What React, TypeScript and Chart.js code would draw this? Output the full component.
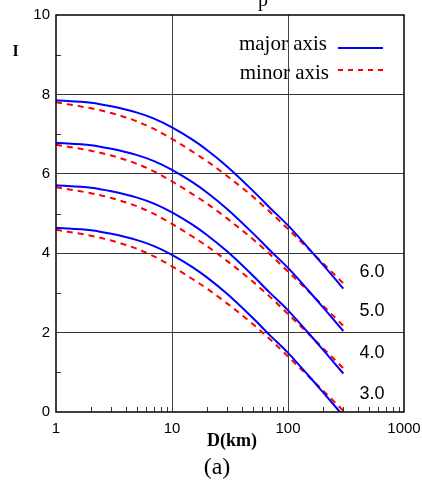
import { useEffect, useRef } from "react";
import { Chart, registerables } from "chart.js";

Chart.register(...registerables);

// ---------- data ----------
const distances = [1, 2, 3, 5, 7, 10, 15, 20, 30, 50, 70, 100, 150, 200, 300];
const magnitudeLabels = ["6.0", "5.0", "4.0", "3.0"];

const major60 = [7.85, 7.79, 7.70, 7.54, 7.39, 7.17, 6.86, 6.60, 6.18, 5.57, 5.14, 4.70, 4.13, 3.71, 3.11];
const minor60 = [7.80, 7.65, 7.53, 7.32, 7.13, 6.88, 6.56, 6.32, 5.94, 5.42, 5.04, 4.61, 4.11, 3.75, 3.24];
const major50 = [6.78, 6.72, 6.63, 6.47, 6.32, 6.10, 5.79, 5.53, 5.11, 4.50, 4.07, 3.63, 3.06, 2.64, 2.04];
const minor50 = [6.73, 6.58, 6.46, 6.25, 6.06, 5.81, 5.49, 5.25, 4.87, 4.35, 3.97, 3.54, 3.04, 2.68, 2.17];
const major40 = [5.71, 5.65, 5.56, 5.40, 5.25, 5.03, 4.72, 4.46, 4.04, 3.43, 3.00, 2.56, 1.99, 1.57, 0.97];
const minor40 = [5.66, 5.51, 5.39, 5.18, 4.99, 4.74, 4.42, 4.18, 3.80, 3.28, 2.90, 2.47, 1.97, 1.61, 1.10];
const major30 = [4.64, 4.58, 4.49, 4.33, 4.18, 3.96, 3.65, 3.39, 2.97, 2.36, 1.93, 1.49, 0.92, 0.50, -0.10];
const minor30 = [4.59, 4.44, 4.32, 4.11, 3.92, 3.67, 3.35, 3.11, 2.73, 2.21, 1.83, 1.40, 0.90, 0.54, 0.03];

const xTicks = [1, 10, 100, 1000];
const xMinorTicks = [2, 3, 4, 5, 6, 7, 8, 9, 20, 30, 40, 50, 60, 70, 80, 90, 200, 300, 400, 500, 600, 700, 800, 900];
const yTicks = [0, 2, 4, 6, 8, 10];
const yMinorTicks = [1, 3, 5, 7, 9];
const legendLabels = ["major axis", "minor axis"];
const xTitle = "D(km)";
const yTitle = "I";
const caption = "(a)";

const SANS = "'Liberation Sans', Arial, sans-serif";
const SERIF = "'Liberation Serif', 'Times New Roman', serif";

const BLUE = "#0000ff";
const RED = "#ff0000";

const toPoints = (vals: number[]) => distances.map((d, i) => ({ x: d, y: vals[i] }));

const extrasPlugin = {
  id: "extras",
  afterDatasetsDraw(chart: any) {
    const { ctx, chartArea } = chart;
    const xs = chart.scales.x;
    const ys = chart.scales.y;
    const { left, right, top, bottom } = chartArea;
    ctx.save();

    // minor ticks (inside)
    ctx.strokeStyle = "#333";
    ctx.lineWidth = 1;
    ctx.beginPath();
    xMinorTicks.forEach((v) => {
      const px = Math.round(xs.getPixelForValue(v)) + 0.5;
      ctx.moveTo(px, bottom);
      ctx.lineTo(px, bottom - 5);
    });
    yMinorTicks.forEach((v) => {
      const py = Math.round(ys.getPixelForValue(v)) + 0.5;
      ctx.moveTo(left, py);
      ctx.lineTo(left + 5, py);
    });
    ctx.stroke();

    // frame
    ctx.strokeStyle = "#000";
    ctx.lineWidth = 1.5;
    ctx.strokeRect(left, top, right - left, bottom - top);

    // legend
    ctx.fillStyle = "#000";
    ctx.font = `21px ${SERIF}`;
    ctx.textAlign = "right";
    ctx.textBaseline = "alphabetic";
    ctx.fillText(legendLabels[0], 327, 50);
    ctx.fillText(legendLabels[1], 329, 79);
    ctx.lineWidth = 2;
    ctx.strokeStyle = BLUE;
    ctx.beginPath();
    ctx.moveTo(338, 48);
    ctx.lineTo(383, 48);
    ctx.stroke();
    ctx.strokeStyle = RED;
    ctx.setLineDash([5, 5]);
    ctx.beginPath();
    ctx.moveTo(338, 70);
    ctx.lineTo(383, 70);
    ctx.stroke();
    ctx.setLineDash([]);

    // magnitude labels
    ctx.font = `18px ${SANS}`;
    ctx.textAlign = "center";
    ctx.textBaseline = "middle";
    const labelI = [3.53, 2.54, 1.49, 0.45];
    magnitudeLabels.forEach((t, i) => {
      ctx.fillText(t, xs.getPixelForValue(530), ys.getPixelForValue(labelI[i]));
    });

    // axis titles
    ctx.font = `bold 16px ${SERIF}`;
    ctx.fillText(yTitle, 15.5, 52);
    ctx.font = `bold 18px ${SERIF}`;
    ctx.fillText(xTitle, 232, 441);
    ctx.font = `24px ${SERIF}`;
    ctx.fillText(caption, 217, 468);

    // clipped title fragment at the top edge
    ctx.font = `20px ${SERIF}`;
    ctx.textBaseline = "alphabetic";
    ctx.fillText("p", 263, 6);

    ctx.restore();
  },
};

export default function App() {
  const canvasRef = useRef<HTMLCanvasElement | null>(null);

  useEffect(() => {
    const canvas = canvasRef.current;
    if (!canvas) return;
    const series = [
      [major60, minor60],
      [major50, minor50],
      [major40, minor40],
      [major30, minor30],
    ];
    const datasets: any[] = [];
    series.forEach(([maj, min], i) => {
      datasets.push({
        label: `major ${magnitudeLabels[i]}`,
        data: toPoints(maj),
        borderColor: BLUE,
        borderWidth: 2,
        pointRadius: 0,
        fill: false,
        cubicInterpolationMode: "monotone",
      });
      datasets.push({
        label: `minor ${magnitudeLabels[i]}`,
        data: toPoints(min),
        borderColor: RED,
        borderWidth: 2,
        borderDash: [6, 5],
        pointRadius: 0,
        fill: false,
        cubicInterpolationMode: "monotone",
      });
    });

    const chart = new Chart(canvas, {
      type: "line",
      data: { datasets },
      options: {
        animation: false,
        responsive: false,
        devicePixelRatio: 1,
        layout: { padding: { top: 15, right: 18, left: 0, bottom: 0 } },
        plugins: {
          legend: { display: false },
          tooltip: { enabled: false },
          title: { display: false },
        },
        scales: {
          x: {
            type: "logarithmic",
            min: 1,
            max: 1000,
            afterBuildTicks: (s: any) => {
              s.ticks = xTicks.map((v) => ({ value: v }));
            },
            afterFit: (s: any) => {
              s.height = 72;
              s.paddingLeft = 0;
              s.paddingRight = 0;
            },
            ticks: {
              callback: (v: any) => String(v),
              font: { family: SANS, size: 15 },
              color: "#000",
              padding: 8,
              maxRotation: 0,
              autoSkip: false,
            },
            grid: {
              color: (c: any) =>
                c.tick && (c.tick.value === 10 || c.tick.value === 100) ? "#444" : "rgba(0,0,0,0)",
              lineWidth: 1,
              drawTicks: false,
            },
            border: { display: false },
          },
          y: {
            type: "linear",
            min: 0,
            max: 10,
            afterBuildTicks: (s: any) => {
              s.ticks = yTicks.map((v) => ({ value: v }));
            },
            afterFit: (s: any) => {
              s.width = 56;
              s.paddingTop = 0;
              s.paddingBottom = 0;
            },
            ticks: {
              font: { family: SANS, size: 15 },
              color: "#000",
              padding: 6,
            },
            grid: {
              color: (c: any) =>
                c.tick && c.tick.value > 0 && c.tick.value < 10 ? "#333" : "rgba(0,0,0,0)",
              lineWidth: 1,
              drawTicks: false,
            },
            border: { display: false },
          },
        },
      },
      plugins: [extrasPlugin],
    } as any);

    return () => chart.destroy();
  }, []);

  return (
    <div style={{ position: "fixed", left: 0, top: 0, width: 422, height: 484, background: "#fff" }}>
      <canvas ref={canvasRef} width={422} height={484} style={{ width: 422, height: 484, display: "block" }} />
    </div>
  );
}
